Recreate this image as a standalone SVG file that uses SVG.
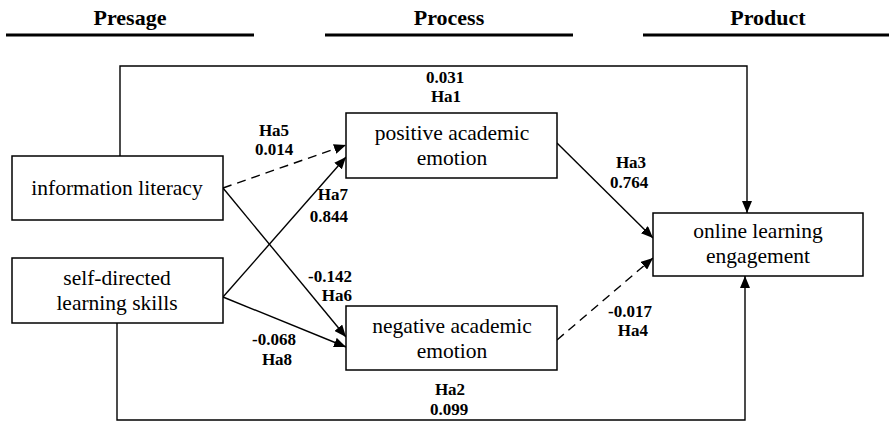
<svg xmlns="http://www.w3.org/2000/svg" width="889" height="422" viewBox="0 0 889 422" font-family="'Liberation Serif', Tinos, 'DejaVu Serif', 'Times New Roman', Times, serif">
<style>
.box{fill:#fff;stroke:#000;stroke-width:1.5}
.nt{font-size:21.5px;text-anchor:middle;fill:#000}
.hd{font-size:22px;font-weight:bold;text-anchor:middle;fill:#000}
.lb{font-size:17px;font-weight:bold;fill:#000}
.c{text-anchor:middle}
.e{text-anchor:end}
.hl{stroke:#000;stroke-width:3}
.ln{fill:none;stroke:#000;stroke-width:1.4;marker-end:url(#ah)}
.ds{stroke-dasharray:9 6}
</style>
<defs>
<marker id="ah" viewBox="0 0 12 10" refX="12" refY="5" markerWidth="12" markerHeight="10" markerUnits="userSpaceOnUse" orient="auto">
<path d="M0,0 L12,5 L0,10 Z" fill="#000"/>
</marker>
</defs>
<g id="headers">
<text class="hd" x="130" y="25">Presage</text>
<line class="hl" x1="6" y1="35" x2="254" y2="35"/>
<text class="hd" x="449" y="25">Process</text>
<line class="hl" x1="325" y1="35" x2="573" y2="35"/>
<text class="hd" x="768" y="25">Product</text>
<line class="hl" x1="643" y1="35" x2="889" y2="35"/>
</g>
<g id="connectors">
<path class="ln" d="M120,156 V66 H747 V213"/>
<path class="ln" d="M117,323 V420 H745 V276"/>
<path class="ln ds" d="M223,188 L346,145"/>
<path class="ln" d="M223,188 L346,337"/>
<path class="ln" d="M223,297 L346,157"/>
<path class="ln" d="M223,297 L346,347"/>
<path class="ln" d="M557,143 L653,238"/>
<path class="ln ds" d="M557,340 L653,258"/>
</g>
<g id="labels">
<text class="lb c" x="445" y="83">0.031</text>
<text class="lb c" x="446" y="102">Ha1</text>
<text class="lb c" x="274" y="136">Ha5</text>
<text class="lb c" x="274" y="155">0.014</text>
<text class="lb e" x="348" y="200">Ha7</text>
<text class="lb e" x="348" y="222">0.844</text>
<text class="lb e" x="352" y="282">-0.142</text>
<text class="lb e" x="352" y="301">Ha6</text>
<text class="lb c" x="274" y="345">-0.068</text>
<text class="lb c" x="277" y="365">Ha8</text>
<text class="lb c" x="631" y="168">Ha3</text>
<text class="lb c" x="629" y="188">0.764</text>
<text class="lb e" x="652" y="317">-0.017</text>
<text class="lb e" x="648" y="336">Ha4</text>
<text class="lb c" x="450" y="395">Ha2</text>
<text class="lb c" x="449" y="415">0.099</text>
</g>
<g id="information-literacy">
<rect class="box" x="12" y="156" width="211" height="64"/>
<text class="nt" x="117" y="195">information literacy</text>
</g>
<g id="self-directed-learning-skills">
<rect class="box" x="12" y="258" width="211" height="65"/>
<text class="nt" x="117" y="285">self-directed</text>
<text class="nt" x="117" y="310">learning skills</text>
</g>
<g id="positive-academic-emotion">
<rect class="box" x="346" y="113" width="211" height="65"/>
<text class="nt" x="452" y="140">positive academic</text>
<text class="nt" x="452" y="165">emotion</text>
</g>
<g id="negative-academic-emotion">
<rect class="box" x="346" y="306" width="211" height="64"/>
<text class="nt" x="452" y="333">negative academic</text>
<text class="nt" x="452" y="358">emotion</text>
</g>
<g id="online-learning-engagement">
<rect class="box" x="653" y="213" width="210" height="63"/>
<text class="nt" x="758" y="238">online learning</text>
<text class="nt" x="758" y="263">engagement</text>
</g>
</svg>
